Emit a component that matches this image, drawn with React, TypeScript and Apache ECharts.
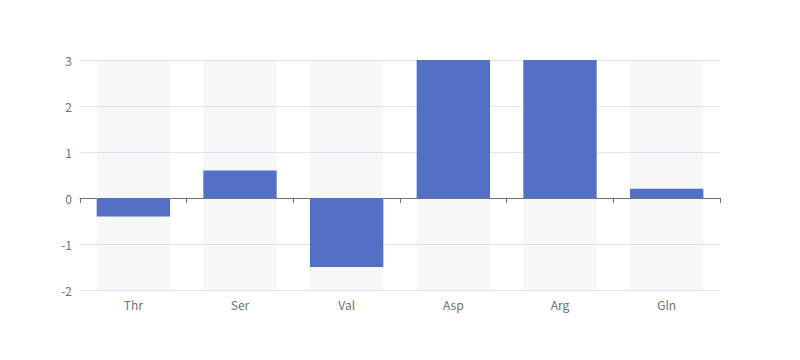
import React, { useEffect, useRef } from "react";
import * as echarts from "echarts";

const categories = ["Thr", "Ser", "Val", "Asp", "Arg", "Gln"];
const values = [-0.4, 0.6, -1.5, 3.6, 3.4, 0.2];
const yTicks = { min: -2, max: 3, interval: 1 };

export default function App() {
  const ref = useRef<HTMLDivElement>(null);
  useEffect(() => {
    if (!ref.current) return;
    const chart = echarts.init(ref.current, undefined, { renderer: "svg" });
    chart.setOption({
      animation: false,
      textStyle: { fontFamily: "'Microsoft YaHei', 'Noto Sans CJK SC', sans-serif" },
      grid: { left: 80, right: 80, top: 60, bottom: 70 },
      xAxis: {
        type: "category",
        data: categories,
        axisLine: { onZero: true, lineStyle: { color: "#6E7079" } },
        axisTick: { show: true, alignWithLabel: false, length: 5, lineStyle: { color: "#6E7079" } },
        axisLabel: { color: "#6E7079", fontSize: 12, margin: 8 },
      },
      yAxis: {
        type: "value",
        min: yTicks.min,
        max: yTicks.max,
        interval: yTicks.interval,
        axisLine: { show: false },
        axisTick: { show: false },
        axisLabel: { color: "#6E7079", fontSize: 12, margin: 8 },
        splitLine: { lineStyle: { color: "#E0E6F1" } },
      },
      series: [
        {
          type: "bar",
          data: values,
          barWidth: "68.75%",
          showBackground: true,
          backgroundStyle: { color: "rgba(180,180,180,0.1)" },
          itemStyle: { color: "#5470c6" },
        },
      ],
    });
    return () => chart.dispose();
  }, []);
  return (
    <div
      ref={ref}
      style={{ position: "absolute", left: 0, top: 0, width: 800, height: 360 }}
    />
  );
}
